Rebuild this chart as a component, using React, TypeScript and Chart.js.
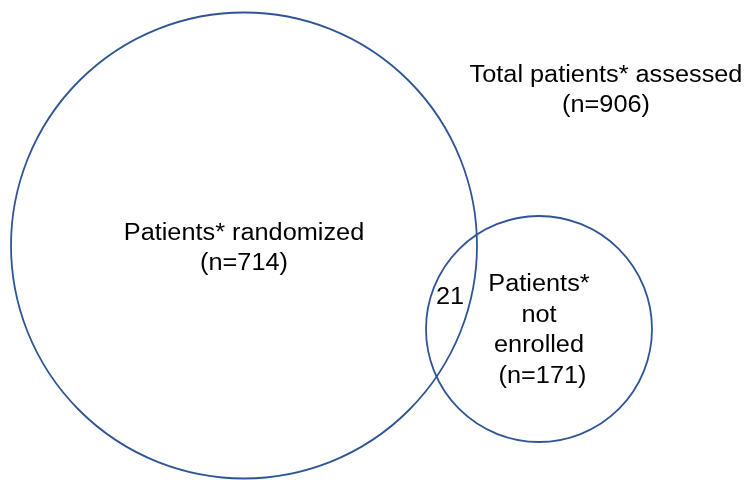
import React, { useEffect, useRef } from "react";
import { Chart, registerables } from "chart.js";

Chart.register(...registerables);

// Venn counts
const setNames = ["Patients* randomized", "Patients* not enrolled"];
const setCounts = [714, 171];
const overlapCount = [21];
const totalLabel = ["Total patients* assessed"];
const totalCount = [906];

// layout (canvas units, 1 unit = 1 px)
const circleX = [244, 539];
const circleY = [245.5, 329];
const circleR = [233, 113];

const W = 747;
const H = 480;
const FONT = "'Liberation Sans', Arial, sans-serif";

type Label = { lines: string[]; x: number; y: number; gap: number };

const labels: Label[] = [
  { lines: [totalLabel[0], `(n=${totalCount[0]})`], x: 606, y: 76, gap: 30 },
  { lines: [setNames[0], `(n=${setCounts[0]})`], x: 244, y: 234, gap: 30 },
  { lines: ["Patients*", "not", "enrolled", ` (n=${setCounts[1]})`], x: 539, y: 285, gap: 30.5 },
  { lines: [String(overlapCount[0])], x: 450, y: 298, gap: 30 },
];

const textPlugin = {
  id: "vennText",
  afterDatasetsDraw(chart: any) {
    const { ctx, scales } = chart;
    labels.forEach((l) => {
      l.lines.forEach((line, i) => {
        const px = scales.x.getPixelForValue(l.x);
        const py = scales.y.getPixelForValue(l.y + i * l.gap);
        ctx.save();
        ctx.fillStyle = "#000";
        ctx.font = `23px ${FONT}`;
        ctx.textAlign = "center";
        ctx.textBaseline = "middle";
        ctx.translate(px, py);
        ctx.scale(1.1, 1);
        ctx.fillText(line, 0, 0);
        ctx.restore();
      });
    });
  },
};

export default function App() {
  const ref = useRef<HTMLCanvasElement>(null);
  useEffect(() => {
    document.body.style.margin = "0";
    const chart = new Chart(ref.current!, {
      type: "bubble",
      data: {
        datasets: [
          {
            data: circleX.map((x, i) => ({ x, y: circleY[i], r: circleR[i] })),
            backgroundColor: "rgba(0,0,0,0)",
            borderColor: "#2F5597",
            borderWidth: 1.8,
            hoverBorderWidth: 1.8,
            clip: false as any,
          },
        ],
      },
      options: {
        animation: false,
        responsive: false,
        events: [],
        layout: { padding: 0, autoPadding: false },
        plugins: { legend: { display: false }, tooltip: { enabled: false } },
        scales: {
          x: { type: "linear", min: 0, max: W, display: false },
          y: { type: "linear", min: 0, max: H, reverse: true, display: false },
        },
      },
      plugins: [textPlugin],
    });
    return () => chart.destroy();
  }, []);
  return (
    <div style={{ width: W, height: H, background: "#fff" }}>
      <canvas ref={ref} width={W} height={H} style={{ display: "block" }} />
    </div>
  );
}
